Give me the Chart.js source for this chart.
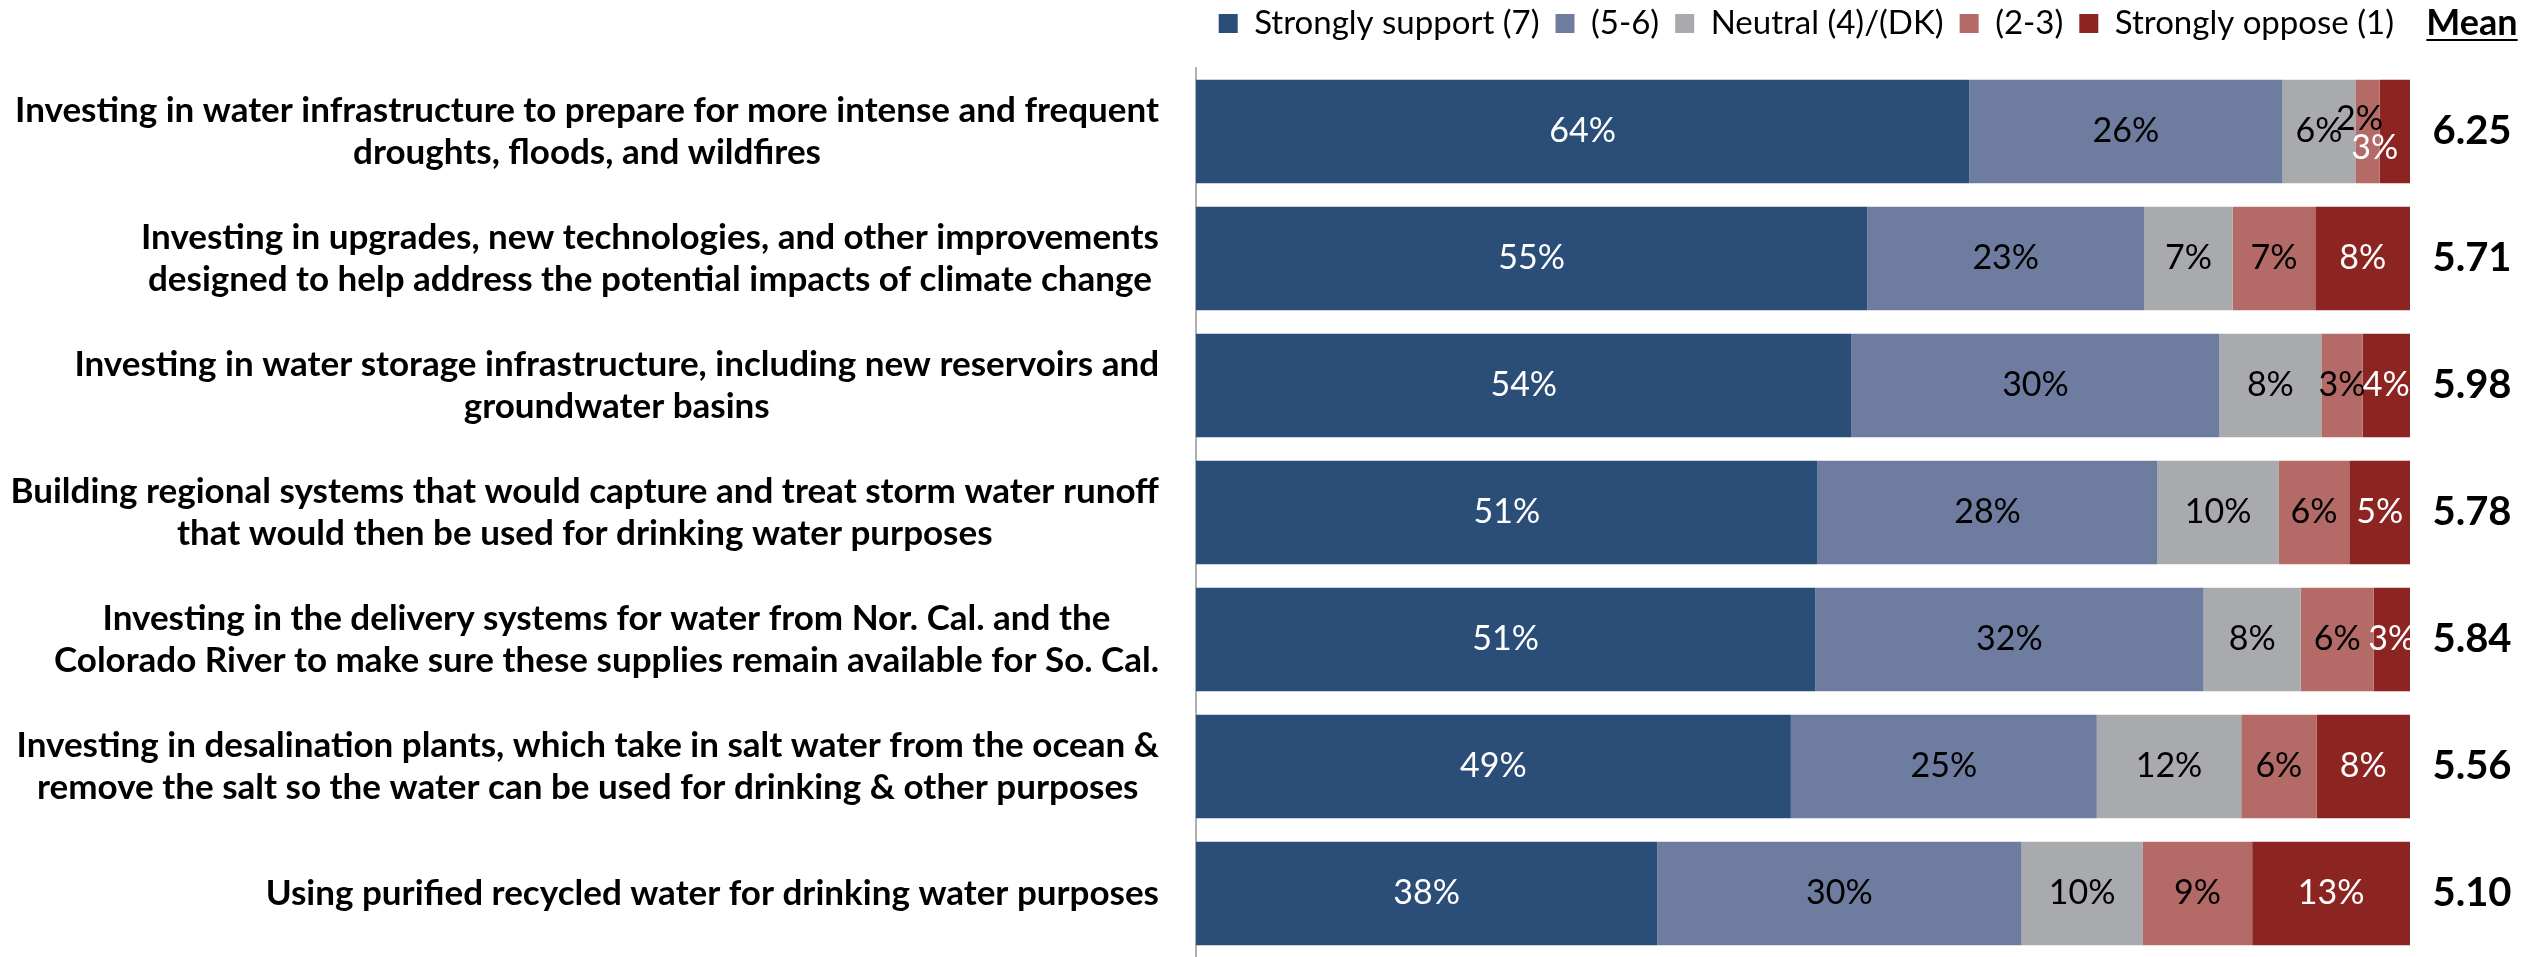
<!DOCTYPE html>
<html>
<head>
<meta charset="utf-8">
<script src="https://cdn.jsdelivr.net/npm/chart.js@4.4.0/dist/chart.umd.min.js"></script>
<style>
html,body{margin:0;padding:0;background:#fff;}
#wrap{width:2521px;height:957px;}
</style>
</head>
<body>
<div id="wrap"><canvas id="myChart"></canvas></div>
<script>
var questions = [
	["Investing in water infrastructure to prepare for more intense and frequent", "droughts, floods, and wildfires"],
	["Investing in upgrades, new technologies, and other improvements", "designed to help address the potential impacts of climate change"],
	["Investing in water storage infrastructure, including new reservoirs and", "groundwater basins"],
	["Building regional systems that would capture and treat storm water runoff", "that would then be used for drinking water purposes"],
	["Investing in the delivery systems for water from Nor. Cal. and the", "Colorado River to make sure these supplies remain available for So. Cal."],
	["Investing in desalination plants, which take in salt water from the ocean &", "remove the salt so the water can be used for drinking & other purposes"],
	["Using purified recycled water for drinking water purposes"]
]
var seriesNames = ["Strongly support (7)", "(5-6)", "Neutral (4)/(DK)", "(2-3)", "Strongly oppose (1)"]
var stronglySupport = [63.7, 55.3, 54.0, 51.2, 51.0, 49.0, 38.0]
var support = [25.8, 22.8, 30.3, 28.0, 32.0, 25.2, 30.0]
var neutral = [6.0, 7.3, 8.4, 10.0, 8.0, 11.9, 10.0]
var oppose = [2.0, 6.8, 3.4, 5.8, 6.0, 6.2, 9.0]
var stronglyOppose = [2.5, 7.8, 3.9, 5.0, 3.0, 7.7, 13.0]
var means = ["6.25", "5.71", "5.98", "5.78", "5.84", "5.56", "5.10"]

var colors = ["#2a4e77", "#6e7c9f", "#a9aaad", "#b46b67", "#8c2421"]
var labelColors = ["#ffffff", "#000000", "#000000", "#000000", "#ffffff"]
var FONT = "Lato, 'Open Sans', sans-serif"

// question text: block right aligned to the axis, lines centred inside it
var questionLabels = {
	id: 'questionLabels',
	afterDraw: function(chart){
		var ctx = chart.ctx
		var y = chart.scales.y
		ctx.save()
		ctx.font = "bold 35px " + FONT
		ctx.fillStyle = "#000"
		ctx.textAlign = "center"
		ctx.textBaseline = "middle"
		chart.data.labels.forEach(function(lines, i){
			var w = 0
			lines.forEach(function(l){ w = Math.max(w, ctx.measureText(l).width) })
			var cx = chart.chartArea.left - 37 - w / 2
			var cy = y.getPixelForValue(i)
			var lh = 42
			lines.forEach(function(l, j){
				ctx.fillText(l, cx, cy + (j - (lines.length - 1) / 2) * lh)
			})
		})
		ctx.restore()
	}
}

// percent labels inside the segments
var segmentLabels = {
	id: 'segmentLabels',
	afterDatasetsDraw: function(chart){
		var ctx = chart.ctx
		ctx.save()
		ctx.font = "34px " + FONT
		ctx.textAlign = "center"
		ctx.textBaseline = "middle"
		chart.data.datasets.forEach(function(ds, d){
			var meta = chart.getDatasetMeta(d)
			meta.data.forEach(function(bar, i){
				var dx = 0, dy = 0
				// first row: the two tiny segments are staggered
				if (i == 0 && d == 3) { dy = -12; dx = -8 }
				if (i == 0 && d == 4) { dy = 17; dx = -20 }
				ctx.fillStyle = labelColors[d]
				ctx.fillText(Math.round(ds.data[i]) + "%", (bar.x + bar.base) / 2 + dx, bar.y + dy)
			})
		})
		ctx.restore()
	}
}

// mean column on the right
var meanColumn = {
	id: 'meanColumn',
	beforeInit: function(chart){
		var fit = chart.legend.fit
		chart.legend.fit = function(){
			fit.call(this)
			this.height += 18
		}
	},
	afterDraw: function(chart){
		var ctx = chart.ctx
		var y = chart.scales.y
		var cx = 2472
		ctx.save()
		ctx.fillStyle = "#000"
		ctx.textAlign = "center"
		ctx.textBaseline = "middle"
		ctx.font = "bold 40px " + FONT
		means.forEach(function(m, i){
			ctx.fillText(m, cx, y.getPixelForValue(i))
		})
		ctx.font = "bold 36px " + FONT
		ctx.fillText("Mean", cx, 23)
		var w = ctx.measureText("Mean").width
		ctx.fillRect(cx - w / 2, 39, w, 2)
		ctx.restore()
	}
}

var allSeries = [stronglySupport, support, neutral, oppose, stronglyOppose]
var datasets = []
for (var s = 0; s < allSeries.length; s++) {
	datasets.push({
		label: seriesNames[s],
		data: allSeries[s],
		backgroundColor: colors[s],
		borderWidth: 0,
		barPercentage: 0.815,
		categoryPercentage: 1
	})
}

var mychart = document.getElementById("myChart").getContext('2d')

var chart = new Chart(mychart, {
	type: 'bar',
	data: {
		labels: questions,
		datasets: datasets
	},
	options: {
		indexAxis: 'y',
		responsive: true,
		maintainAspectRatio: false,
		animation: false,
		layout: {padding: {left: 1188, right: 111, top: -9, bottom: 0}},
		scales: {
			x: {stacked: true, min: 0, max: 100, display: false},
			y: {
				stacked: true,
				ticks: {display: false},
				grid: {display: false},
				border: {display: true, color: "#b0b0b0", width: 2}
			}
		},
		plugins: {
			legend: {
				position: 'top',
				align: 'end',
				labels: {
					boxWidth: 19,
					boxHeight: 19,
					padding: 16,
					color: "#000",
					font: {family: FONT, size: 33}
				}
			},
			tooltip: {enabled: false}
		}
	},
	plugins: [questionLabels, segmentLabels, meanColumn]
})
</script>
</body>
</html>
